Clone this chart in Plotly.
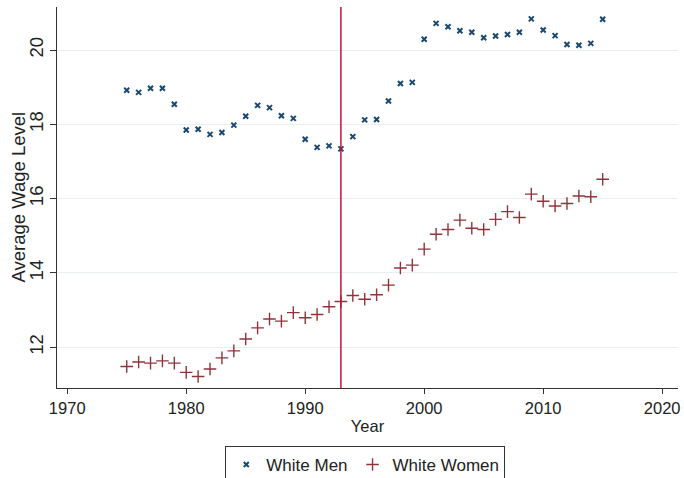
import plotly.graph_objects as go

# Average wage level by year
years = list(range(1975, 2016))

white_men = [
    18.92, 18.86, 18.97, 18.97, 18.54, 17.85, 17.87, 17.73, 17.78, 17.98,
    18.22, 18.51, 18.45, 18.23, 18.16, 17.60, 17.38, 17.42, 17.34, 17.67,
    18.12, 18.13, 18.63, 19.10, 19.13, 20.29, 20.72, 20.63, 20.52, 20.48,
    20.33, 20.38, 20.42, 20.48, 20.84, 20.54, 20.39, 20.15, 20.13, 20.18,
    20.83,
]

white_women = [
    11.48, 11.60, 11.57, 11.63, 11.57, 11.32, 11.21, 11.41, 11.71, 11.90,
    12.22, 12.52, 12.76, 12.70, 12.93, 12.79, 12.88, 13.09, 13.23, 13.39,
    13.29, 13.41, 13.67, 14.13, 14.21, 14.64, 15.04, 15.17, 15.42, 15.20,
    15.17, 15.44, 15.65, 15.49, 16.12, 15.93, 15.80, 15.87, 16.07, 16.05,
    16.52,
]

x_ticks = [1970, 1980, 1990, 2000, 2010, 2020]
y_ticks = [12, 14, 16, 18, 20]
marker_year = 1993

FONT = "Liberation Sans, Arial, sans-serif"
AXIS_COLOR = "#333333"
TEXT_COLOR = "#222222"

fig = go.Figure()

fig.add_trace(go.Scatter(
    x=years, y=white_men, mode="markers", name="White Men",
    marker=dict(symbol="x-thin-open", size=5, color="#1a476f",
                line=dict(color="#1a476f", width=2)),
))

fig.add_trace(go.Scatter(
    x=years, y=white_women, mode="markers", name="White Women",
    marker=dict(symbol="cross-thin-open", size=9, color="#90353b",
                line=dict(color="#90353b", width=1.4)),
))

fig.add_shape(
    type="line", xref="x", yref="paper",
    x0=marker_year, x1=marker_year, y0=0, y1=1,
    line=dict(color="#c8103a", width=1.5),
    layer="above",
)

# vertical axis title, placed next to the rotated tick labels
fig.add_annotation(
    text="Average Wage Level", textangle=-90,
    xref="paper", yref="paper", x=-0.0628, y=0.5,
    xanchor="center", yanchor="middle", showarrow=False,
    font=dict(family=FONT, size=18.5, color=TEXT_COLOR),
)

fig.update_layout(
    width=684, height=478,
    margin=dict(l=57, r=6, t=7, b=90, autoexpand=False),
    paper_bgcolor="white", plot_bgcolor="white",
    font=dict(family=FONT, size=16, color=TEXT_COLOR),
    showlegend=True,
    legend=dict(
        orientation="h",
        x=0.271, xanchor="left", xref="paper",
        y=-0.1522, yanchor="top",
        bordercolor="#333333", borderwidth=1,
        bgcolor="white",
        font=dict(family=FONT, size=17, color=TEXT_COLOR),
        itemwidth=30,
    ),
    xaxis=dict(
        range=[1969.14, 2021.33],
        tickmode="array", tickvals=x_ticks,
        ticks="outside", ticklen=5, tickcolor=AXIS_COLOR,
        showline=True, linecolor=AXIS_COLOR, linewidth=1,
        showgrid=False, zeroline=False,
        tickfont=dict(size=16.5),
        title=dict(text="Year", font=dict(size=16.5), standoff=4),
    ),
    yaxis=dict(
        range=[10.90, 21.16],
        tickmode="array", tickvals=y_ticks,
        ticks="outside", ticklen=6, tickcolor=AXIS_COLOR,
        tickangle=-90,
        showline=True, linecolor=AXIS_COLOR, linewidth=1,
        showgrid=True, gridcolor="#e9eff1", gridwidth=1,
        zeroline=False,
        tickfont=dict(size=18.5),
    ),
)

fig.write_html("out.html")
